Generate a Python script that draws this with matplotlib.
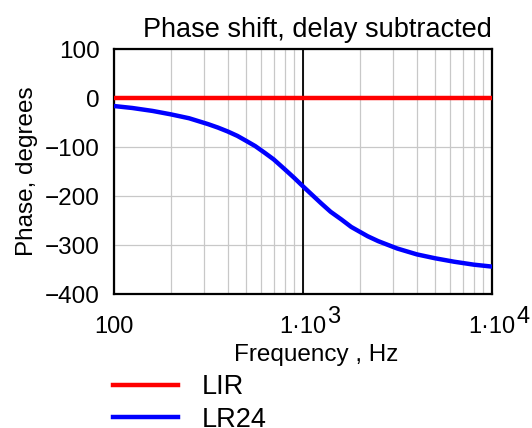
import numpy as np
import matplotlib.pyplot as plt
from matplotlib.ticker import FixedLocator, FixedFormatter, NullFormatter

plt.rcParams['font.family'] = ['Liberation Sans', 'DejaVu Sans']

# Frequency points (Hz) and phase (degrees)
freq = [100, 125, 160, 200, 250, 315, 355, 400, 450, 500, 560, 630, 700,
        800, 900, 1000, 1100, 1250, 1400, 1600, 1800, 2000, 2200, 2500,
        3150, 4000, 5000, 6300, 8000, 10000]
phase_lir = [0] * len(freq)
phase_lr24 = [-16, -20, -26, -33, -41, -53, -60, -68, -77, -87, -98, -112,
              -125, -145, -163, -180, -195, -215, -232, -248, -263, -273,
              -282, -292, -307, -319, -327, -334, -340, -344]

yticks = [100, 0, -100, -200, -300, -400]
ytick_labels = ['100', '0', '\u2212100', '\u2212200', '\u2212300', '\u2212400']
xticks = [100, 1000, 10000]
xtick_labels = ['100', '1·10', '1·10']
xtick_exps = ['', '3', '4']
cursor_freq = 1000

fig = plt.figure(figsize=(5.32, 4.28), dpi=100)
ax = fig.add_axes([0.214, 0.313, 0.711, 0.572])

lir, = ax.plot(freq, phase_lir, color='#ff0000', lw=3.2, label='LIR', zorder=3)
lr24, = ax.plot(freq, phase_lr24, color='#0000ff', lw=3.2, label='LR24', zorder=3)
ax.axvline(cursor_freq, color='black', lw=1.3, zorder=2)

ax.set_xscale('log')
ax.set_xlim(100, 10000)
ax.set_ylim(-400, 100)

ax.xaxis.set_major_locator(FixedLocator(xticks))
ax.xaxis.set_major_formatter(FixedFormatter(xtick_labels))
ax.xaxis.set_minor_formatter(NullFormatter())
ax.set_yticks(yticks)
ax.set_yticklabels(ytick_labels)

ax.grid(True, which='both', axis='x', color='#c8c8c8', lw=0.9)
ax.grid(True, which='major', axis='y', color='#c8c8c8', lw=0.9)
ax.set_axisbelow(True)
ax.tick_params(which='both', length=0)
ax.tick_params(axis='y', labelsize=17.5, pad=10)
ax.tick_params(axis='x', labelsize=17, pad=16)
for s in ax.spines.values():
    s.set_linewidth(1.6)

ax.set_title('Phase shift, delay subtracted', loc='right', fontsize=19.5, pad=9)
ax.set_xlabel('Frequency , Hz', fontsize=17.5)
ax.xaxis.set_label_coords(0.535, -0.205)
ax.set_ylabel('Phase, degrees', fontsize=17.5)
ax.yaxis.set_label_coords(-0.2, 0.5)

fig.legend(handles=[lir, lr24], loc='upper left', bbox_to_anchor=(0.212, 0.126),
           frameon=False, fontsize=19.5, handlelength=2.4, handletextpad=0.9,
           labelspacing=0.25, borderpad=0, borderaxespad=0)

# superscript exponents for the 1·10^n labels, full size like the original
fig.canvas.draw()
renderer = fig.canvas.get_renderer()
W, H = fig.bbox.width, fig.bbox.height
for lbl, e in zip(ax.get_xticklabels(), xtick_exps):
    if not e:
        continue
    bb = lbl.get_window_extent(renderer)
    fig.text((bb.x1 + 1) / W, (bb.y1 + 10) / H, e, fontsize=17,
             ha='left', va='top')

fig.savefig('out.png', dpi=100)
